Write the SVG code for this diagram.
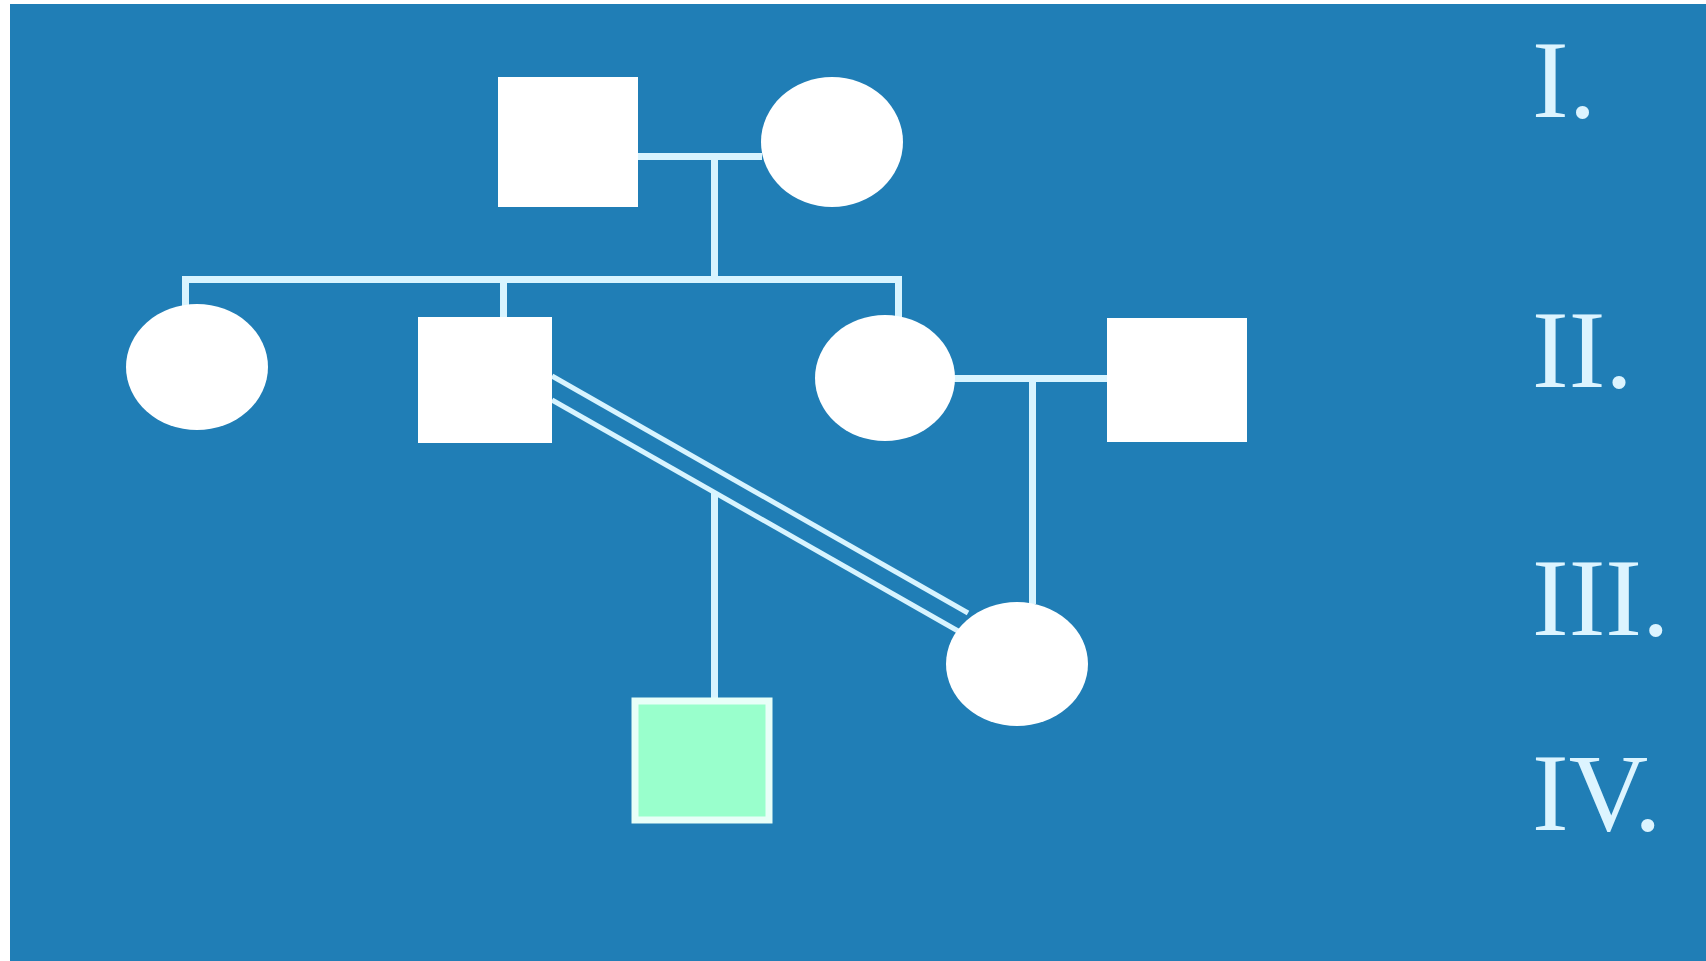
<svg xmlns="http://www.w3.org/2000/svg" width="1706" height="961" viewBox="0 0 1706 961">
<style>
.m{fill:#ffffff;stroke:none}
.f{fill:#ffffff;stroke:none}
.a{fill:#99ffcc;stroke:#e8fff8;stroke-width:7}
.c{stroke:#d8f4ff;stroke-width:7;fill:none;shape-rendering:crispEdges}
.c2{stroke:#d8f4ff;stroke-width:5;fill:none}
.g{font-family:"Liberation Serif","Times New Roman",serif;font-size:110px;fill:#dcf4ff}
</style>
<rect x="0" y="0" width="1706" height="961" fill="#ffffff"/>
<rect x="10" y="4" width="1696" height="957" fill="#207eb6"/>
<g id="connectors">
<line class="c" x1="638" y1="156" x2="762" y2="156"/>
<line class="c" x1="714" y1="156" x2="714" y2="279"/>
<line class="c" x1="182" y1="279" x2="901" y2="279"/>
<line class="c" x1="185" y1="276" x2="185" y2="306"/>
<line class="c" x1="503" y1="276" x2="503" y2="318"/>
<line class="c" x1="898" y1="276" x2="898" y2="318"/>
<line class="c" x1="953" y1="378" x2="1108" y2="378"/>
<line class="c" x1="1032" y1="378" x2="1032" y2="604"/>
<line class="c2" x1="552" y1="376" x2="968" y2="613"/>
<line class="c2" x1="552" y1="400" x2="958" y2="631"/>
<line class="c" x1="714" y1="492" x2="714" y2="699"/>
</g>
<g id="I-1"><rect class="m" x="498" y="77" width="140" height="130"/></g>
<g id="I-2"><ellipse class="f" cx="832" cy="142" rx="71" ry="65"/></g>
<g id="II-1"><ellipse class="f" cx="197" cy="367" rx="71" ry="63"/></g>
<g id="II-2"><rect class="m" x="418" y="317" width="134" height="126"/></g>
<g id="II-3"><ellipse class="f" cx="885" cy="378" rx="70" ry="63"/></g>
<g id="II-4"><rect class="m" x="1107" y="318" width="140" height="124"/></g>
<g id="III-1"><ellipse class="f" cx="1017" cy="664" rx="71" ry="62"/></g>
<g id="IV-1"><rect class="a" x="635" y="701" width="134" height="119"/></g>
<g id="labels">
<text class="g" x="1532" y="117">I.</text>
<text class="g" x="1532" y="387">II.</text>
<text class="g" x="1532" y="635">III.</text>
<text class="g" x="1532" y="830">IV.</text>
</g>
</svg>
